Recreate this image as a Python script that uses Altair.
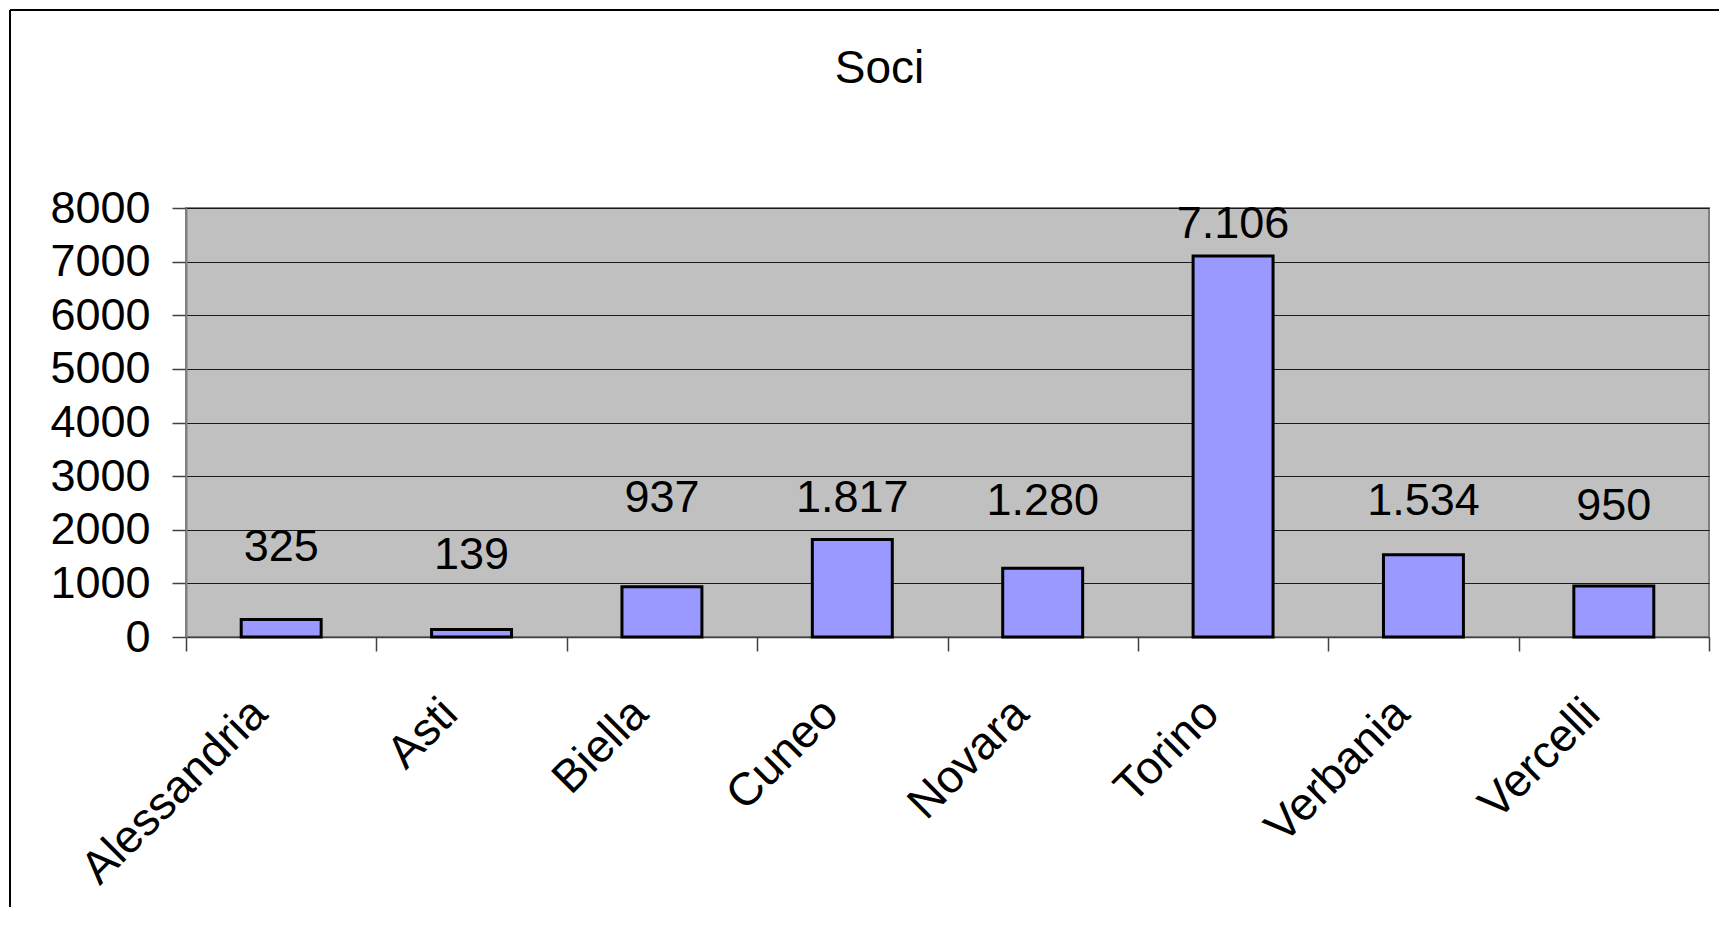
import altair as alt
import pandas as pd

# Data
province = ["Alessandria", "Asti", "Biella", "Cuneo", "Novara", "Torino", "Verbania", "Vercelli"]
soci = [325, 139, 937, 1817, 1280, 7106, 1534, 950]
# height (in data units) at which each value label sits in the original
label_at = [1670, 1526, 2600, 2600, 2540, 7710, 2540, 2450]

df = pd.DataFrame({
    "Provincia": province,
    "Soci": soci,
    "label_at": label_at,
    "label": [f"{v:,}".replace(",", ".") for v in soci],
})

FONT = "Liberation Sans"
W, H = 1523, 429

x_enc = alt.X(
    "Provincia:N",
    sort=province,
    scale=alt.Scale(paddingInner=0, paddingOuter=0),
    axis=alt.Axis(
        title=None,
        labelAngle=-45,
        labelAlign="right",
        labelBaseline="middle",
        labelFont=FONT,
        labelFontSize=46,
        labelColor="black",
        labelPadding=55,
        labelOffset=-22,
        labelLimit=600,
        tickBand="extent",
        tickSize=14,
        tickColor="#404040",
        tickWidth=1.5,
        domainColor="#404040",
        domainWidth=1.5,
        grid=False,
    ),
)

bars = alt.Chart(df).mark_bar(
    color="#9999FF", stroke="black", strokeWidth=3,
    width=alt.RelativeBandSize(0.42),
).encode(
    x=x_enc,
    y=alt.Y(
        "Soci:Q",
        scale=alt.Scale(domain=[0, 8000], nice=False),
        axis=alt.Axis(
            title=None,
            values=list(range(0, 8001, 1000)),
            format="d",
            labelFont=FONT,
            labelFontSize=45,
            labelColor="black",
            labelPadding=22,
            tickSize=14,
            tickColor="#404040",
            tickWidth=1.5,
            domainColor="#808080",
            domainWidth=2,
            grid=True,
            gridColor="#1a1a1a",
            gridWidth=1,
        ),
    ),
)

labels = alt.Chart(df).mark_text(
    font=FONT, fontSize=45, color="black", baseline="middle", align="center"
).encode(
    x=alt.X("Provincia:N", sort=province),
    y=alt.Y("label_at:Q"),
    text="label:N",
)

# outer frame (only top and left edges are visible in the original)
frame_top = alt.Chart(df).mark_rule(color="black", strokeWidth=1.5).encode(
    x=alt.value(-176), x2=alt.value(W + 10), y=alt.value(-198)
)
frame_left = alt.Chart(df).mark_rule(color="black", strokeWidth=1.5).encode(
    x=alt.value(-176), y=alt.value(-198), y2=alt.value(H + 270)
)

chart = alt.layer(bars, labels, frame_top, frame_left).properties(
    width=W,
    height=H,
    background="white",
    title=alt.TitleParams(
        "Soci",
        font=FONT,
        fontSize=46,
        fontWeight="normal",
        color="black",
        anchor="middle",
        baseline="alphabetic",
        dx=-68,
        dy=120,
        offset=0,
    ),
    autosize=alt.AutoSizeParams(type="none"),
    padding={"left": 178, "top": 200, "right": 10, "bottom": 270},
).configure_view(
    fill="#C0C0C0", stroke="#808080", strokeWidth=2
)

chart.save("out.html", embed_options={"renderer": "svg", "actions": False})
